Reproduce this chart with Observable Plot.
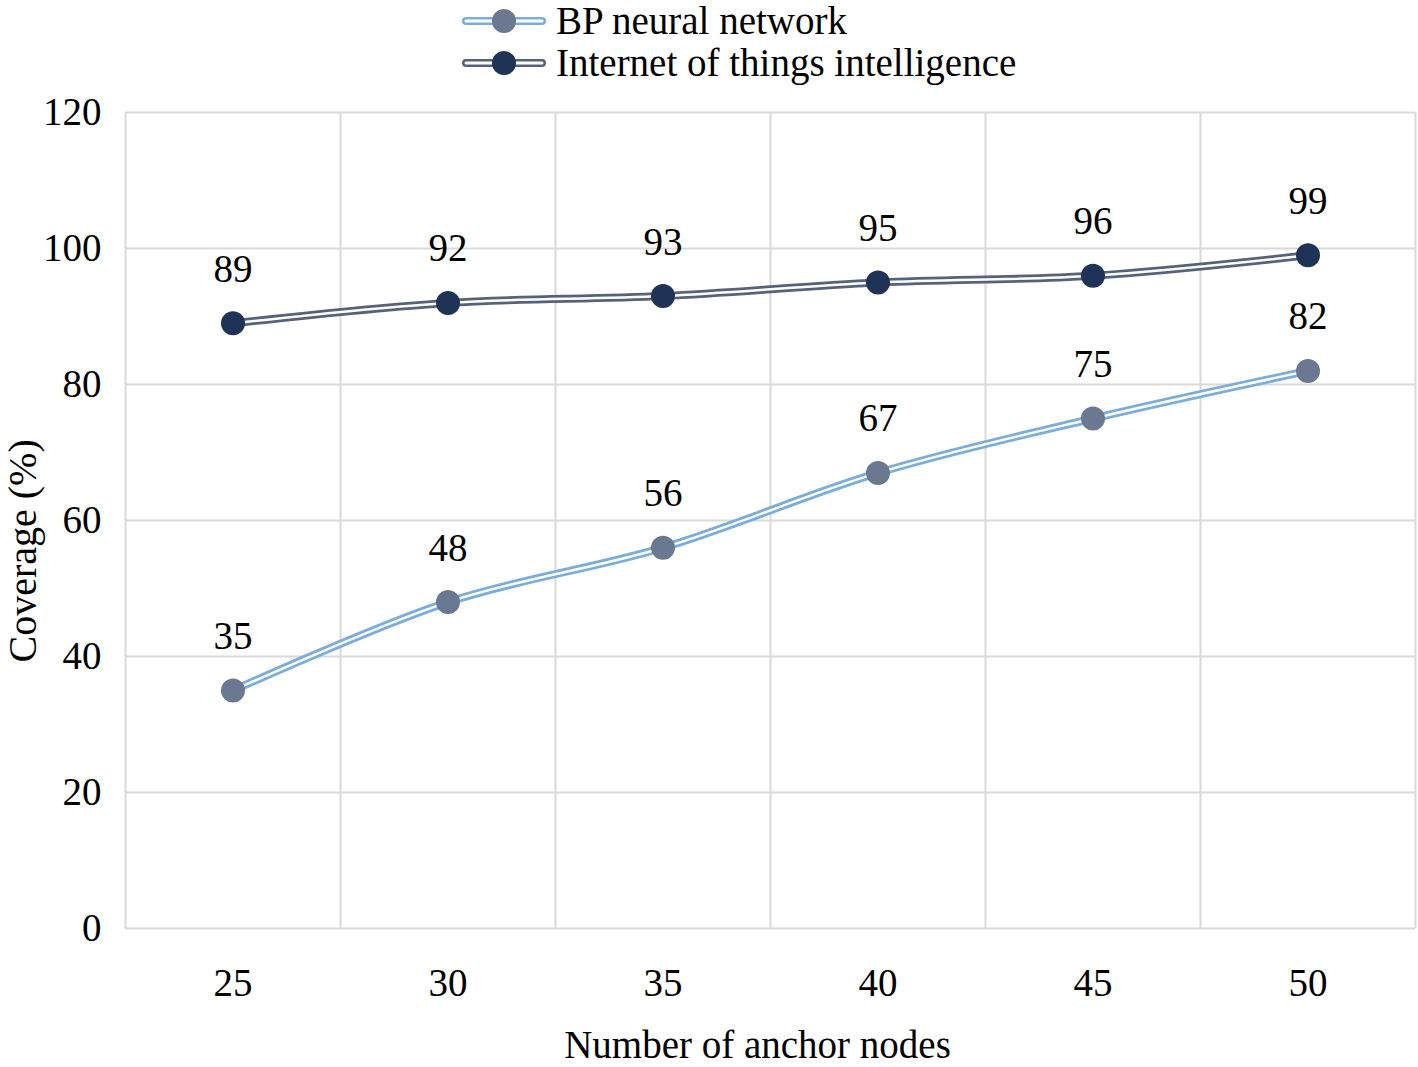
<!DOCTYPE html>
<html>
<head>
<meta charset="utf-8">
<script src="https://cdn.jsdelivr.net/npm/d3@7"></script>
<script src="https://cdn.jsdelivr.net/npm/@observablehq/plot@0.6"></script>
<style>
  body { margin: 0; background: #fff; font-family: "Liberation Serif", "Times New Roman", serif; }
  #legend { position: relative; height: 90px; width: 1418px; }
  .item { position: absolute; left: 460px; display: flex; align-items: center; font-size: 39px; line-height: 42px; color: #000; }
  .item svg { margin-right: 8px; }
  #chart svg text { font-family: "Liberation Serif", "Times New Roman", serif; }
</style>
</head>
<body>
<div id="legend"></div>
<div id="chart"></div>
<script>
const anchorNodes = [25, 30, 35, 40, 45, 50];
const bpValues = [35, 48, 56, 67, 75, 82];
const iotValues = [89, 92, 93, 95, 96, 99];
const seriesNames = ["BP neural network", "Internet of things intelligence"];
const yTicks = [0, 20, 40, 60, 80, 100, 120];

const lineColors = ["#7aaddd", "#56627c"];
const dotColors = ["#6b7891", "#1f3357"];

// legend
const legend = document.getElementById("legend");
seriesNames.forEach((name, i) => {
  const div = document.createElement("div");
  div.className = "item";
  div.style.top = (i === 0 ? 0 : 42) + "px";
  div.innerHTML = `<svg width="88" height="40"><line x1="6" x2="82" y1="20" y2="20" stroke="${lineColors[i]}" stroke-width="8" stroke-linecap="round"/><line x1="6" x2="82" y1="20" y2="20" stroke="#fff" stroke-width="3" stroke-linecap="round"/><circle cx="44" cy="20" r="12" fill="${dotColors[i]}"/></svg><span>${name}</span>`;
  legend.appendChild(div);
});

const data = [];
anchorNodes.forEach((n, i) => {
  data.push({n, v: bpValues[i], s: seriesNames[0]});
});
anchorNodes.forEach((n, i) => {
  data.push({n, v: iotValues[i], s: seriesNames[1]});
});
const half = (anchorNodes[1] - anchorNodes[0]) / 2;
const bounds = [anchorNodes[0] - half, ...anchorNodes.map(d => d + half)];

const chart = Plot.plot({
  width: 1418,
  height: 977,
  marginLeft: 125,
  marginRight: 3,
  marginTop: 22,
  marginBottom: 139,
  style: { fontFamily: "'Liberation Serif', 'Times New Roman', serif", fontSize: "39px", color: "#000", background: "#fff" },
  x: { domain: [bounds[0], bounds[bounds.length - 1]], label: null },
  y: { domain: [0, 120], label: null },
  color: { domain: seriesNames, range: lineColors },
  marks: [
    Plot.ruleY(yTicks, { stroke: "#d9d9d9", strokeWidth: 2 }),
    Plot.ruleX(bounds, { stroke: "#d9d9d9", strokeWidth: 2 }),
    Plot.axisY({ ticks: yTicks, tickSize: 0, tickPadding: 24, fontSize: 39 }),
    Plot.axisX({ ticks: anchorNodes, tickSize: 0, tickPadding: 40, fontSize: 39, tickFormat: d => String(d) }),
    Plot.line(data, { x: "n", y: "v", z: "s", stroke: "s", strokeWidth: 8, curve: "catmull-rom" }),
    Plot.line(data, { x: "n", y: "v", z: "s", stroke: "#fff", strokeWidth: 2.5, curve: "catmull-rom" }),
    Plot.dot(data, { x: "n", y: "v", r: 12, fill: d => dotColors[seriesNames.indexOf(d.s)], stroke: "none" }),
    Plot.text(data, { x: "n", y: "v", text: d => String(d.v), dy: -54, fontSize: 39, fill: "#000" }),
    Plot.text(["Number of anchor nodes"], { frameAnchor: "bottom", dy: 129, dx: -13, fontSize: 39, fill: "#000" }),
    Plot.text(["Coverage (%)"], { frameAnchor: "left", rotate: -90, dx: -102, dy: 142, fontSize: 40, fill: "#000" })
  ]
});
chart.querySelectorAll("text").forEach(t => t.setAttribute("fill-opacity", 1));
document.getElementById("chart").appendChild(chart);
</script>
</body>
</html>
